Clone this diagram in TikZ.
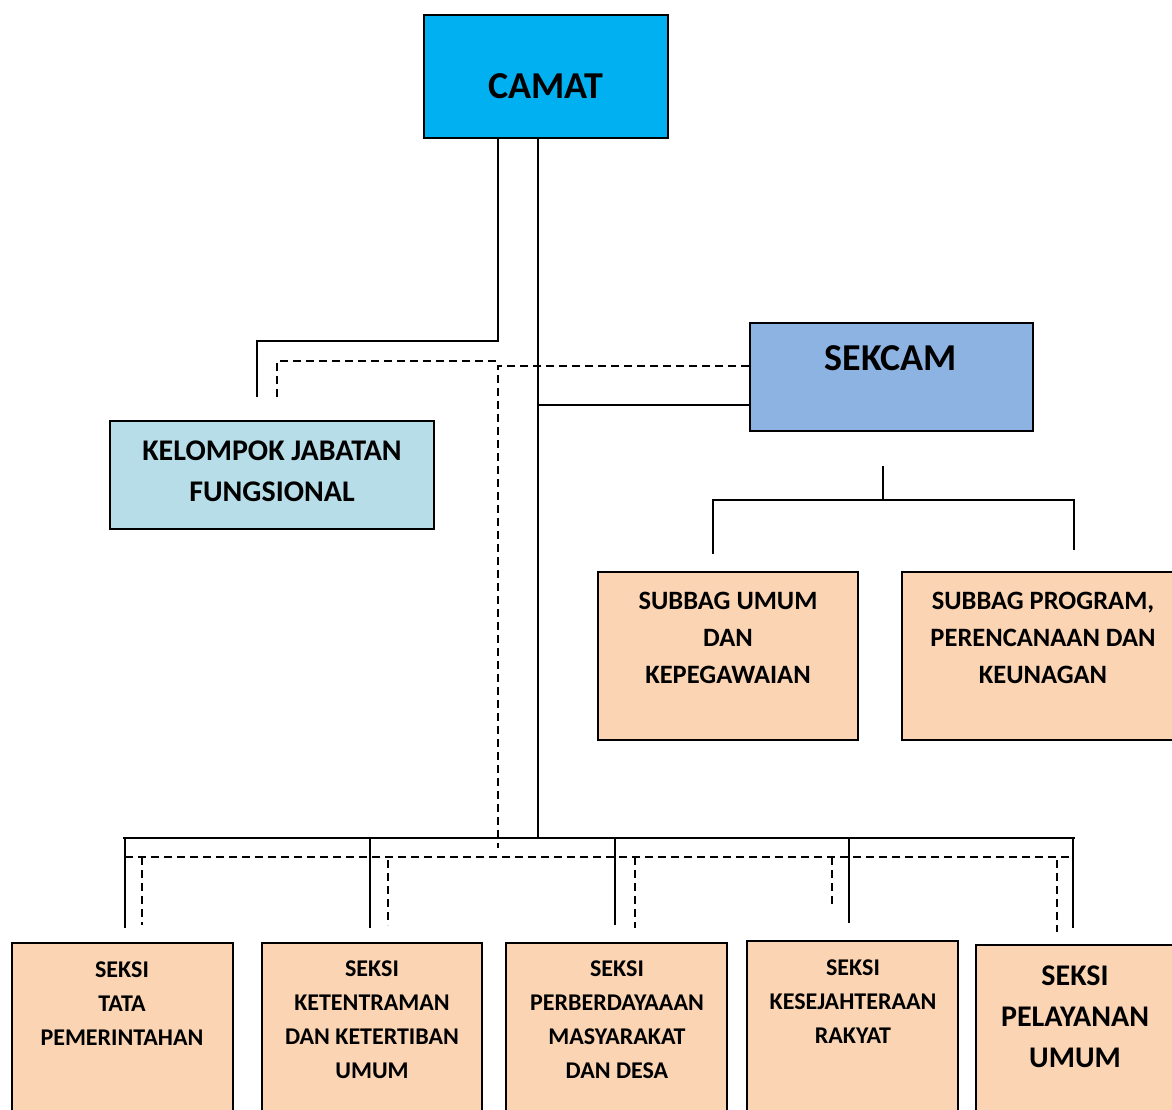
\documentclass[tikz,border=0pt]{standalone}
\usepackage{fontspec}
\setmainfont{Carlito}
\definecolor{camatc}{HTML}{00B0F0}
\definecolor{sekcamc}{HTML}{8DB3E2}
\definecolor{jabc}{HTML}{B7DDE8}
\definecolor{peach}{HTML}{FBD4B4}
\begin{document}
\begin{tikzpicture}[x=1pt,y=-1pt,
  box/.style={draw=black,line width=1.5pt,inner sep=0pt},
  lbl/.style={align=center,font=\bfseries,inner sep=0pt},
  conn/.style={line width=1.7pt},
  dconn/.style={line width=1.7pt,dash pattern=on 8pt off 5pt}]
\useasboundingbox (0,0) rectangle (1172,1109);
% boxes
\node[box,fill=camatc,minimum width=244pt,minimum height=123pt] (camat) at (546,76.5) {};
\node[lbl,font=\fontsize{38}{42}\selectfont\bfseries] (tcamat) at (546,86) {CAMAT};
\node[box,fill=sekcamc,minimum width=283pt,minimum height=108pt] (sekcam) at (891.5,377) {};
\node[lbl,font=\fontsize{38}{42}\selectfont\bfseries] (tsekcam) at (891,358) {SEKCAM};
\node[box,fill=jabc,minimum width=324pt,minimum height=108pt] (jab) at (272,475) {};
\node[lbl,font=\fontsize{30}{41}\selectfont\bfseries] (tjab) at (272,471) {KELOMPOK JABATAN\\FUNGSIONAL};
\node[box,fill=peach,minimum width=260pt,minimum height=168pt] (sub1) at (728,656) {};
\node[lbl,font=\fontsize{26.5}{37}\selectfont\bfseries] (tsub1) at (728,638) {SUBBAG UMUM\\DAN\\KEPEGAWAIAN};
\node[box,fill=peach,minimum width=290pt,minimum height=168pt] (sub2) at (1047,656) {};
\node[lbl,font=\fontsize{26.5}{37}\selectfont\bfseries] (tsub2) at (1043,638) {SUBBAG PROGRAM,\\PERENCANAAN DAN\\KEUNAGAN};
% bottom boxes
\node[box,fill=peach,minimum width=221pt,minimum height=190pt] (s1) at (122.5,1038) {};
\node[lbl,font=\fontsize{24}{34}\selectfont\bfseries] (ts1) at (122,1004) {SEKSI\\TATA\\PEMERINTAHAN};
\node[box,fill=peach,minimum width=220pt,minimum height=190pt] (s2) at (372,1038) {};
\node[lbl,font=\fontsize{24}{34}\selectfont\bfseries] (ts2) at (372,1020) {SEKSI\\KETENTRAMAN\\DAN KETERTIBAN\\UMUM};
\node[box,fill=peach,minimum width=221pt,minimum height=190pt] (s3) at (616.5,1038) {};
\node[lbl,font=\fontsize{24}{34}\selectfont\bfseries] (ts3) at (617,1020) {SEKSI\\PERBERDAYAAAN\\MASYARAKAT\\DAN DESA};
\node[box,fill=peach,minimum width=211pt,minimum height=190pt] (s4) at (852.5,1036) {};
\node[lbl,font=\fontsize{24}{34}\selectfont\bfseries] (ts4) at (853,1002) {SEKSI\\KESEJAHTERAAN\\RAKYAT};
\node[box,fill=peach,minimum width=210pt,minimum height=190pt] (s5) at (1081,1040) {};
\node[lbl,font=\fontsize{30}{41}\selectfont\bfseries] (ts5) at (1075,1017) {SEKSI\\PELAYANAN\\UMUM};
% solid connectors
\coordinate (j1) at (498,341);
\coordinate (jabtop) at (257,397);
\draw[conn] (camat.south -| j1) -- (j1) -- (257,341) -- (jabtop);
\coordinate (bus) at (538,838);
\draw[conn] (camat.south -| bus) -- (bus);
\draw[conn] (538,405) -- (sekcam.west |- 0,405);
\draw[conn] (123,838) -- (1075,838);
\foreach \x in {125,370,1073}{
  \draw[conn] (\x,838) -- (\x,928);
}
\draw[conn] (615,838) -- (615,925);
\draw[conn] (849,838) -- (849,923);
% sekcam branch
\coordinate (sk1) at (883,466);
\coordinate (sk2) at (883,500);
\draw[conn] (sk1) -- (sk2);
\draw[conn] (713,554) -- (713,500) -- (1074,500) -- (1074,550);
% dashed connectors
\coordinate (d1) at (277,397);
\draw[dconn] (d1) -- (277,361) -- (497,361);
\draw[dconn] (sekcam.west |- 0,366) -- (498,366) -- (498,848);
\draw[dconn] (125,857) -- (1070,857);
\draw[dconn] (142,857) -- (142,925);
\draw[dconn] (388,860) -- (388,925);
\draw[dconn] (635,857) -- (635,928);
\draw[dconn] (832,857) -- (832,905);
\draw[dconn] (1057,860) -- (1057,932);
\end{tikzpicture}
\end{document}
